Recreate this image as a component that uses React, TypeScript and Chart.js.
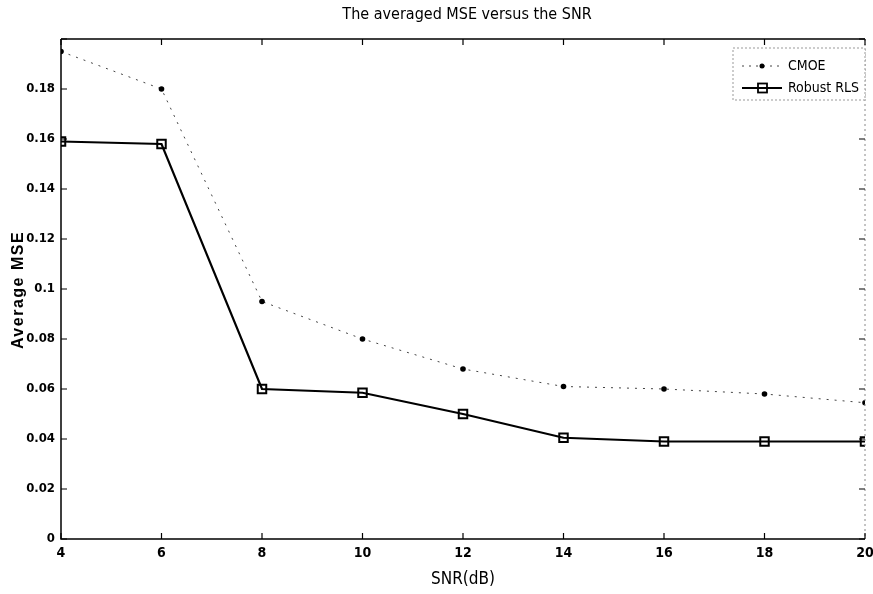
import React, { useEffect, useRef } from "react";
import { Chart, registerables } from "chart.js";

Chart.register(...registerables);

const snr = [4, 6, 8, 10, 12, 14, 16, 18, 20];
const cmoe = [0.195, 0.18, 0.095, 0.08, 0.068, 0.061, 0.06, 0.058, 0.0545];
const robustRls = [0.159, 0.158, 0.06, 0.0585, 0.05, 0.0405, 0.039, 0.039, 0.039];
const xTicks = [4, 6, 8, 10, 12, 14, 16, 18, 20];
const yTicks = [0, 0.02, 0.04, 0.06, 0.08, 0.1, 0.12, 0.14, 0.16, 0.18, 0.2];
const seriesNames = ["CMOE", "Robust RLS"];

const FONT = "'Liberation Sans Narrow', 'DejaVu Sans Condensed', Arial, sans-serif";

const framePlugin = {
  id: "frame",
  afterDraw(chart: any) {
    const { ctx, chartArea } = chart;
    const { left, right, top, bottom } = chartArea;
    const xs = chart.scales.x;
    const ys = chart.scales.y;
    ctx.save();
    // box
    ctx.strokeStyle = "#000";
    ctx.lineWidth = 1.5;
    ctx.beginPath();
    ctx.moveTo(left, top);
    ctx.lineTo(right, top);
    ctx.moveTo(left, top);
    ctx.lineTo(left, bottom);
    ctx.lineTo(right, bottom);
    ctx.stroke();
    ctx.strokeStyle = "#888";
    ctx.lineWidth = 1;
    ctx.setLineDash([2, 3]);
    ctx.beginPath();
    ctx.moveTo(right, top);
    ctx.lineTo(right, bottom);
    ctx.stroke();
    ctx.setLineDash([]);
    // inward ticks
    ctx.strokeStyle = "#000";
    ctx.lineWidth = 1.2;
    const tl = 6;
    ctx.beginPath();
    xTicks.forEach((t) => {
      const px = xs.getPixelForValue(t);
      ctx.moveTo(px, bottom);
      ctx.lineTo(px, bottom - tl);
      ctx.moveTo(px, top);
      ctx.lineTo(px, top + tl);
    });
    yTicks.forEach((t) => {
      const py = ys.getPixelForValue(t);
      ctx.moveTo(left, py);
      ctx.lineTo(left + tl, py);
      ctx.moveTo(right, py);
      ctx.lineTo(right - tl, py);
    });
    ctx.stroke();

    // title
    ctx.fillStyle = "#000";
    ctx.font = `16px ${FONT}`;
    ctx.textAlign = "center";
    ctx.textBaseline = "middle";
    ctx.fillText("The averaged MSE versus the SNR", 467, 15);

    // y-axis title
    ctx.save();
    ctx.translate(19, 290);
    ctx.rotate(-Math.PI / 2);
    ctx.font = "bold 16px 'Liberation Sans', Arial, sans-serif";
    try { (ctx as any).letterSpacing = "1.5px"; } catch (e) {}
    ctx.textAlign = "center";
    ctx.textBaseline = "middle";
    ctx.fillText("Average MSE", 0, 0);
    ctx.restore();

    // legend
    const lx = 733, ly = 48, lw = right - 733, lh = 52;
    ctx.fillStyle = "#fff";
    ctx.fillRect(lx, ly, lw, lh);
    ctx.strokeStyle = "#999";
    ctx.lineWidth = 1;
    ctx.setLineDash([2, 2]);
    ctx.strokeRect(lx, ly, lw, lh);
    ctx.setLineDash([]);
    const y1 = ly + 18, y2 = ly + 40;
    ctx.strokeStyle = "#444";
    ctx.lineWidth = 1;
    ctx.setLineDash([2, 5]);
    ctx.beginPath();
    ctx.moveTo(742, y1);
    ctx.lineTo(782, y1);
    ctx.stroke();
    ctx.setLineDash([]);
    ctx.fillStyle = "#000";
    ctx.beginPath();
    ctx.arc(762, y1, 2.5, 0, Math.PI * 2);
    ctx.fill();
    ctx.strokeStyle = "#000";
    ctx.lineWidth = 2;
    ctx.beginPath();
    ctx.moveTo(742, y2);
    ctx.lineTo(782, y2);
    ctx.stroke();
    ctx.lineWidth = 1.8;
    ctx.strokeRect(758, y2 - 4.5, 9, 9);
    ctx.fillStyle = "#000";
    ctx.font = `14px ${FONT}`;
    ctx.textAlign = "left";
    ctx.fillText(seriesNames[0], 788, y1);
    ctx.fillText(seriesNames[1], 788, y2);
    ctx.restore();
  },
};

export default function App() {
  const ref = useRef<HTMLCanvasElement>(null);
  useEffect(() => {
    const canvas = ref.current;
    if (!canvas) return;
    const chart = new Chart(canvas, {
      type: "line",
      data: {
        datasets: [
          {
            label: seriesNames[0],
            data: snr.map((x, i) => ({ x, y: cmoe[i] })),
            borderColor: "#444",
            borderWidth: 1,
            borderDash: [2, 6],
            pointStyle: "circle",
            pointRadius: 2.8,
            pointBackgroundColor: "#000",
            pointBorderColor: "#000",
            pointBorderWidth: 0,
            tension: 0,
          },
          {
            label: seriesNames[1],
            data: snr.map((x, i) => ({ x, y: robustRls[i] })),
            borderColor: "#000",
            borderWidth: 2.2,
            pointStyle: "rect",
            pointRadius: 6,
            pointBackgroundColor: "rgba(0,0,0,0)",
            pointBorderColor: "#000",
            pointBorderWidth: 2,
            tension: 0,
          },
        ],
      },
      options: {
        responsive: false,
        animation: false,
        layout: { padding: { top: 39, right: 7, left: 0, bottom: 0 } },
        plugins: {
          legend: { display: false },
          title: { display: false },
          tooltip: { enabled: false },
        },
        scales: {
          x: {
            type: "linear",
            min: 4,
            max: 20,
            afterBuildTicks: (s: any) => {
              s.ticks = xTicks.map((v) => ({ value: v }));
            },
            afterFit: (s: any) => {
              s.height = 55;
              s.paddingRight = 0;
              s.paddingLeft = 0;
            },
            grid: { display: false, drawTicks: false },
            border: { display: false },
            ticks: {
              color: "#000",
              padding: 6,
              font: { family: FONT, size: 14, weight: "bold" },
              callback: (v: any) => String(v),
            },
            title: {
              display: true,
              text: "SNR(dB)",
              color: "#000",
              font: { family: FONT, size: 17 },
              padding: { top: 0, bottom: 4 },
            },
          },
          y: {
            type: "linear",
            min: 0,
            max: 0.2,
            afterBuildTicks: (s: any) => {
              s.ticks = yTicks.map((v) => ({ value: v }));
            },
            afterFit: (s: any) => {
              s.width = 61;
              s.paddingTop = 0;
              s.paddingBottom = 0;
            },
            grid: { display: false, drawTicks: false },
            border: { display: false },
            ticks: {
              color: "#000",
              padding: 6,
              font: { family: FONT, size: 13, weight: "bold" },
              callback: (v: any) => (v >= 0.199 ? "" : String(Number(Number(v).toFixed(2)))),
            },
            title: { display: false },
          },
        },
      },
      plugins: [framePlugin],
    });
    return () => chart.destroy();
  }, []);
  return (
    <div style={{ position: "absolute", left: 0, top: 0, width: 873, height: 594, background: "#fff" }}>
      <canvas ref={ref} width={873} height={594} />
    </div>
  );
}
